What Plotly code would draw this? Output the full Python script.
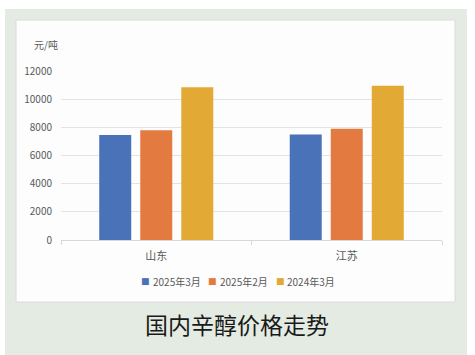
import plotly.graph_objects as go

categories = ["山东", "江苏"]
series_names = ["2025年3月", "2025年2月", "2024年3月"]
values_mar25 = [7450, 7500]
values_feb25 = [7800, 7900]
values_mar24 = [10850, 10950]
colors = ["#4A72B8", "#E37B40", "#E2AA35"]
y_ticks = [0, 2000, 4000, 6000, 8000, 10000, 12000]
y_ticktext = [str(v) for v in y_ticks]

W, H = 475, 355
L, R, T, B = 61, 442, 71, 240  # plot area in px

def px_x(px):
    return (px - L) / (R - L)

def px_y(py):
    return (B - py) / (B - T)

fig = go.Figure()
for name, vals, c in zip(series_names, [values_mar25, values_feb25, values_mar24], colors):
    fig.add_trace(go.Bar(x=categories, y=vals, name=name, marker=dict(color=c, line=dict(width=0))))

font_cn = "Noto Sans CJK SC, Noto Sans, sans-serif"

# legend drawn as annotations (compact, like the reference)
legend_sq_x = [145.5, 212.5, 280]
legend_ann = []
for name, c, sx in zip(series_names, colors, legend_sq_x):
    legend_ann.append(dict(text="■", xref="paper", yref="paper", x=px_x(sx), y=px_y(281),
                           showarrow=False, xanchor="center", yanchor="middle",
                           font=dict(size=9, color=c, family="DejaVu Sans")))
    legend_ann.append(dict(text=name, xref="paper", yref="paper", x=px_x(sx + 5), y=px_y(281),
                           showarrow=False, xanchor="left", yanchor="middle",
                           font=dict(size=10, color="#595959", family=font_cn)))

fig.update_layout(
    width=W, height=H,
    margin=dict(l=L, r=W - R, t=T, b=H - B, pad=0),
    paper_bgcolor="white",
    plot_bgcolor="rgba(0,0,0,0)",
    barmode="group",
    bargap=0.354,
    bargroupgap=0.22,
    font=dict(family=font_cn, color="#595959", size=10),
    showlegend=False,
    xaxis=dict(showgrid=False, showline=True, linecolor="#D9D9D9", linewidth=1,
               ticks="outside", tickson="boundaries", ticklen=4, tickcolor="#D9D9D9",
               tickfont=dict(size=11, color="#595959"), ticklabelstandoff=6),
    yaxis=dict(range=[0, 12000], tickvals=y_ticks, ticktext=y_ticktext, showgrid=True,
               gridcolor="#E3E3E3", gridwidth=1, zeroline=False, showline=False,
               tickfont=dict(size=10, color="#595959"), ticklabelstandoff=8),
    shapes=[
        dict(type="rect", xref="paper", yref="paper", layer="below",
             x0=px_x(5), x1=px_x(467), y0=px_y(9), y1=px_y(356),
             fillcolor="#E3EBE2", line=dict(width=0)),
        dict(type="rect", xref="paper", yref="paper", layer="below",
             x0=px_x(16), x1=px_x(455), y0=px_y(20), y1=px_y(302),
             fillcolor="#FDFDFD", line=dict(width=1, color="#DCDCDC")),
    ],
    annotations=[
        dict(text="元/吨", xref="paper", yref="paper", x=px_x(46), y=px_y(44),
             showarrow=False, font=dict(size=10, color="#595959"), xanchor="center", yanchor="middle"),
        dict(text="国内辛醇价格走势", xref="paper", yref="paper", x=px_x(237), y=px_y(324),
             showarrow=False, font=dict(size=23, color="#1A1A1A", family=font_cn),
             xanchor="center", yanchor="middle"),
    ] + legend_ann,
)

fig.write_html("out.html")
